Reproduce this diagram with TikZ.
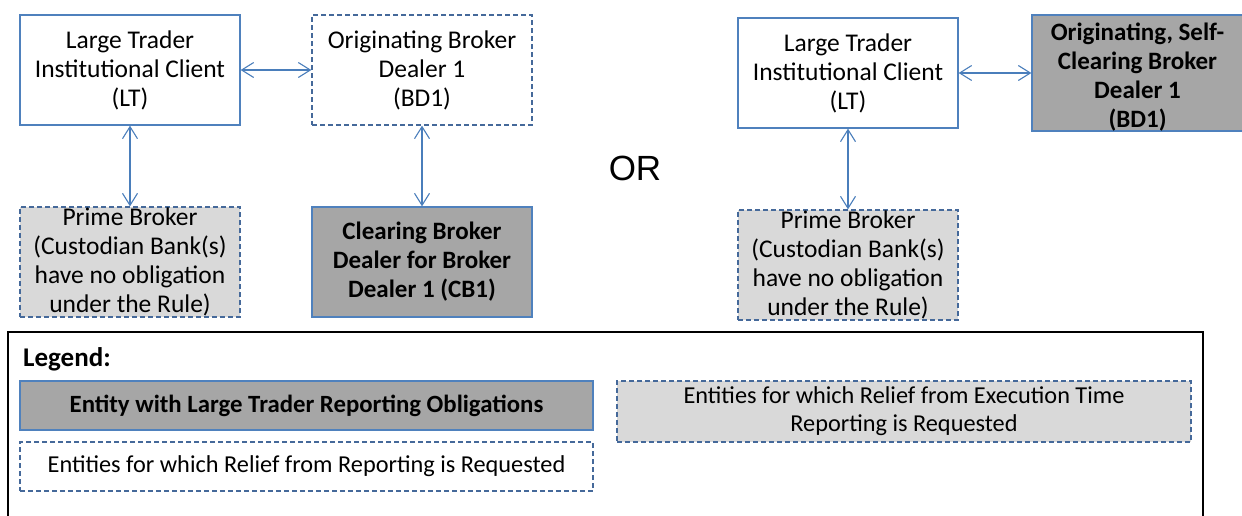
\documentclass[tikz,border=0pt]{standalone}
\usepackage{fontspec}
\setmainfont{Carlito}
\newfontfamily\orfont{Liberation Sans}
\usetikzlibrary{arrows.meta}
\definecolor{boxline}{HTML}{4F81BD}
\definecolor{dashline}{HTML}{45699A}
\definecolor{arrowline}{HTML}{4A7EBB}
\definecolor{lightgray}{HTML}{D9D9D9}
\definecolor{darkgray}{HTML}{A6A6A6}

\begin{document}
\begin{tikzpicture}[x=1pt,y=-1pt,
                    nodes={inner sep=0pt,align=center,font=\fontsize{25.5}{29}\selectfont},
                    entity/.style={draw=boxline,line width=1.3pt,minimum width=220pt,minimum height=110pt},
                    relief/.style={entity,draw=dashline,dash pattern=on 5pt off 3pt},
                    obliged/.style={entity,fill=darkgray,font=\fontsize{25}{29}\selectfont\bfseries},
                    exectime/.style={relief,fill=lightgray},
                    keytext/.style={font=\fontsize{24.3}{28}\selectfont},
                    keybold/.style={font=\fontsize{24.8}{28}\selectfont\bfseries},
                    link/.style={draw=arrowline,line width=1.1pt,{Straight Barb[length=12pt,width=15pt]}-{Straight Barb[length=12pt,width=15pt]}}]
 \useasboundingbox (0,0) rectangle (1242,515);
 \clip (0,0) rectangle (1242,515);
 % left alternative
 \node[entity]   (lt1) at (130,70)  {Large Trader\\Institutional Client\\(LT)};
 \node[relief]   (bd1) at (422,70)  {Originating Broker\\Dealer 1\\(BD1)};
 \node[exectime] (pb1) at (130,262) {Prime Broker\\(Custodian Bank(s)\\have no obligation\\under the Rule)};
 \node[obliged]  (cb1) at (422,262) {Clearing Broker\\Dealer for Broker\\Dealer 1 (CB1)};
 \draw[link] (lt1) -- (bd1);
 \draw[link] (lt1) -- (pb1);
 \draw[link] (bd1) -- (cb1);
 % the OR between both alternatives
 \node[font=\orfont\fontsize{35}{40}\selectfont] (or) at (635,168) {OR};
 % right alternative
 \node[entity]   (lt2) at (848,73)  {Large Trader\\Institutional Client\\(LT)};
 \node[obliged,minimum width=211pt] (bd2) at (1137.5,73) {\rule{0pt}{25pt}Originating, Self-\\Clearing Broker\\Dealer 1\\(BD1)};
 \node[exectime] (pb2) at (848,265) {Prime Broker\\(Custodian Bank(s)\\have no obligation\\under the Rule)};
 \draw[link] (lt2) -- (bd2);
 \draw[link] (lt2) -- (pb2);
 % legend
 \draw[line width=1.3pt] (8,332) rectangle (1203,560);
 \node[anchor=base west,font=\fontsize{27}{29}\selectfont\bfseries] (legend) at (23,366) {Legend:};
 \node[obliged,keybold,minimum width=573pt,minimum height=49pt] (keyobl) at (306.5,405.5) {Entity with Large Trader Reporting Obligations};
 \node[relief,keytext,minimum width=573pt,minimum height=49pt] (keyrel) at (306.5,466.5) {Entities for which Relief from Reporting is Requested};
 \node[exectime,keytext,minimum width=574pt,minimum height=61pt] (keyexe) at (904,411.5) {Entities for which Relief from Execution Time\\Reporting is Requested};
\end{tikzpicture}
\end{document}
